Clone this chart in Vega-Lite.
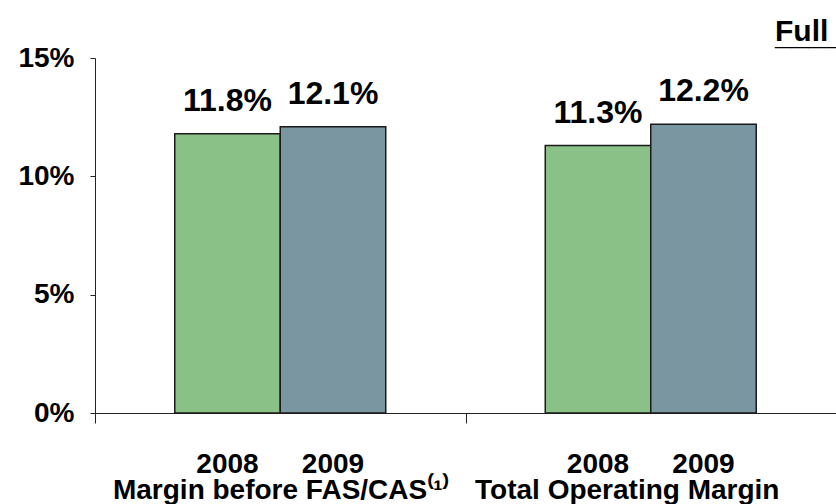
{
  "$schema": "https://vega.github.io/schema/vega-lite/v6.json",
  "autosize": {"type": "none"},
  "width": 741,
  "height": 355,
  "padding": {"left": 95, "top": 58, "right": 0, "bottom": 91},
  "background": "white",
  "config": {
    "view": {"stroke": null},
    "font": "Liberation Sans",
    "axis": {"grid": false, "domainColor": "#222", "tickColor": "#222", "labelColor": "black", "labelFont": "Liberation Sans", "labelFontWeight": "bold", "domainWidth": 1, "tickWidth": 1}
  },
  "title": {
    "text": ["Full Year", "_____"],
    "anchor": "start",
    "frame": "group",
    "dx": 680,
    "dy": 35,
    "offset": 4,
    "baseline": "alphabetic",
    "lineHeight": 4,
    "fontSize": 30,
    "font": "Liberation Sans",
    "fontWeight": "bold",
    "color": "black"
  },
  "data": {
    "values": [
      {"category": "Margin before FAS/CAS⁽¹⁾", "year": "2008", "margin": 0.118},
      {"category": "Margin before FAS/CAS⁽¹⁾", "year": "2009", "margin": 0.121},
      {"category": "Total Operating Margin", "year": "2008", "margin": 0.113},
      {"category": "Total Operating Margin", "year": "2009", "margin": 0.122}
    ]
  },
  "encoding": {
    "x": {
      "field": "category",
      "type": "nominal",
      "sort": null,
      "scale": {"paddingInner": 0, "paddingOuter": 0},
      "axis": {
        "title": null,
        "labelAngle": 0,
        "labelFontSize": 28,
        "labelBaseline": "alphabetic",
        "labelPadding": 75,
        "labelLimit": 0,
        "labelOffset": {"condition": {"test": "datum.value == 'Total Operating Margin'", "value": -24}, "value": 0},
        "tickSize": 10,
        "tickBand": "extent"
      }
    },
    "xOffset": {
      "field": "year",
      "type": "nominal",
      "scale": {"paddingInner": 0, "paddingOuter": 0.756}
    }
  },
  "layer": [
    {
      "mark": {"type": "bar", "stroke": "#1a1a1a", "strokeWidth": 1.5},
      "encoding": {
        "y": {
          "field": "margin",
          "type": "quantitative",
          "scale": {"domain": [0, 0.15], "nice": false},
          "axis": {
            "title": null,
            "format": ".0%",
            "values": [0, 0.05, 0.1, 0.15],
            "labelFontSize": 28,
            "tickSize": 5,
            "labelPadding": 16
          }
        },
        "color": {
          "field": "year",
          "type": "nominal",
          "scale": {"domain": ["2008", "2009"], "range": ["#8ac187", "#7a96a0"]},
          "legend": null
        }
      }
    },
    {
      "mark": {"type": "text", "baseline": "alphabetic", "dy": -23, "fontSize": 32, "fontWeight": "bold", "font": "Liberation Sans", "color": "black"},
      "encoding": {
        "y": {"field": "margin", "type": "quantitative"},
        "text": {"field": "margin", "type": "quantitative", "format": ".1%"}
      }
    },
    {
      "mark": {"type": "text", "baseline": "alphabetic", "dy": 60, "fontSize": 28, "fontWeight": "bold", "font": "Liberation Sans", "color": "black"},
      "encoding": {
        "y": {"datum": 0},
        "text": {"field": "year", "type": "nominal"}
      }
    }
  ]
}
